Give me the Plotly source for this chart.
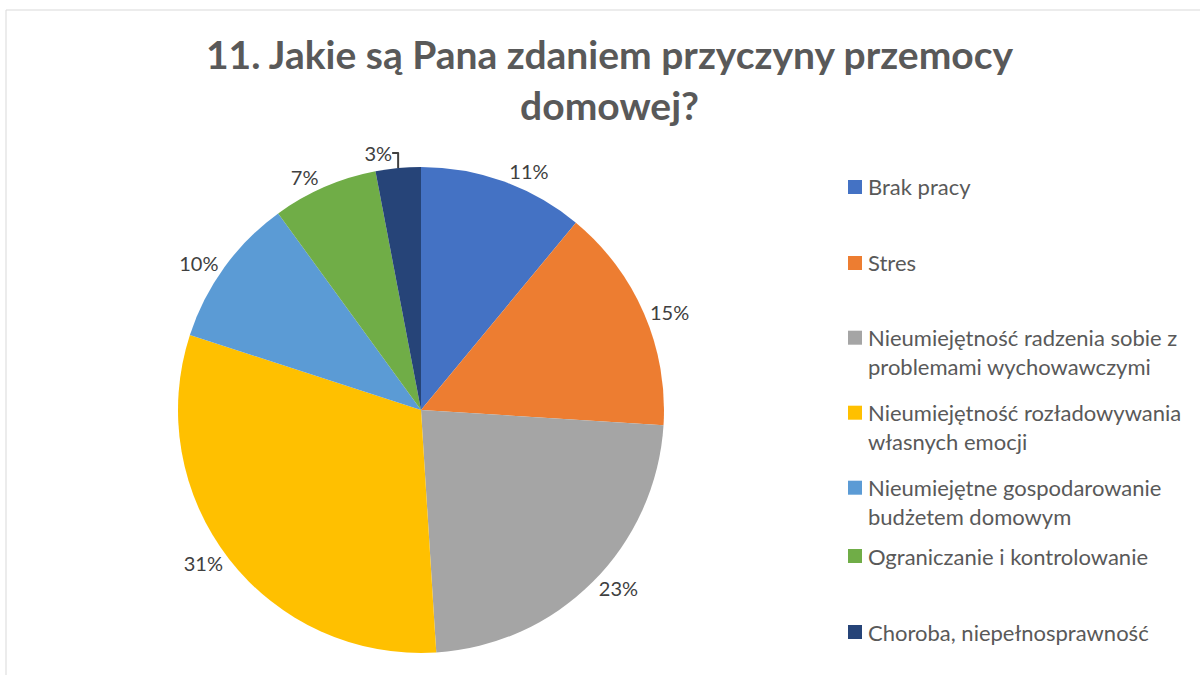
import plotly.graph_objects as go

title_text = "11. Jakie są Pana zdaniem przyczyny przemocy<br>domowej?"
categories = [
    "Brak pracy",
    "Stres",
    "Nieumiejętność radzenia sobie z<br>problemami wychowawczymi",
    "Nieumiejętność rozładowywania<br>własnych emocji",
    "Nieumiejętne gospodarowanie<br>budżetem domowym",
    "Ograniczanie i kontrolowanie",
    "Choroba, niepełnosprawność",
]
values = [11, 15, 23, 31, 10, 7, 3]
colors = ["#4472C4", "#ED7D31", "#A5A5A5", "#FFC000", "#5B9BD5", "#70AD47", "#264478"]

# layout
W, H = 1200, 675
cx, cy, r = 421, 410, 243
legend_y = [187, 263, 352, 427, 502, 556, 632]  # pixel centres of legend entries
FONT = "Lato"
LEG_SIZE = 22

fig = go.Figure(
    go.Pie(
        labels=categories,
        values=values,
        marker=dict(colors=colors, line=dict(width=0)),
        sort=False,
        direction="clockwise",
        rotation=0,
        textposition="outside",
        texttemplate="%{percent:.0%}",
        textfont=dict(family=FONT, size=20, color="#404040"),
        domain=dict(x=[(cx - r) / W, (cx + r) / W], y=[(H - cy - r) / H, (H - cy + r) / H]),
        showlegend=False,
        hoverinfo="label+percent",
    )
)

shapes = [
    dict(type="line", xref="paper", yref="paper", x0=6 / W, x1=1.0, y0=1 - 10 / H, y1=1 - 10 / H,
         line=dict(color="#D9D9D9", width=1)),
    dict(type="line", xref="paper", yref="paper", x0=6 / W, x1=6 / W, y0=0, y1=1 - 10 / H,
         line=dict(color="#D9D9D9", width=1)),
]
annotations = [
    dict(text="<b>" + title_text + "</b>", xref="paper", yref="paper", x=610 / W, y=1 - 80 / H,
         xanchor="center", yanchor="middle", showarrow=False, align="center",
         font=dict(family=FONT, size=39, color="#595959")),
]
half_line = 0.65 * LEG_SIZE
for lab, col, ly in zip(categories, colors, legend_y):
    sq = ly - (half_line if "<br>" in lab else 0)
    shapes.append(dict(type="rect", xref="paper", yref="paper",
                       x0=848 / W, x1=862 / W,
                       y0=1 - (sq + 7) / H, y1=1 - (sq - 7) / H,
                       fillcolor=col, line=dict(width=0)))
    annotations.append(dict(text=lab, xref="paper", yref="paper", x=866 / W, y=1 - ly / H,
                            xanchor="left", yanchor="middle", showarrow=False, align="left",
                            font=dict(family=FONT, size=LEG_SIZE, color="#595959")))

fig.update_layout(
    width=W, height=H,
    margin=dict(l=0, r=0, t=0, b=0),
    paper_bgcolor="white",
    plot_bgcolor="white",
    shapes=shapes,
    annotations=annotations,
)
fig.write_html("out.html", config={"displayModeBar": False},
               post_script="document.body.style.margin='0';")
